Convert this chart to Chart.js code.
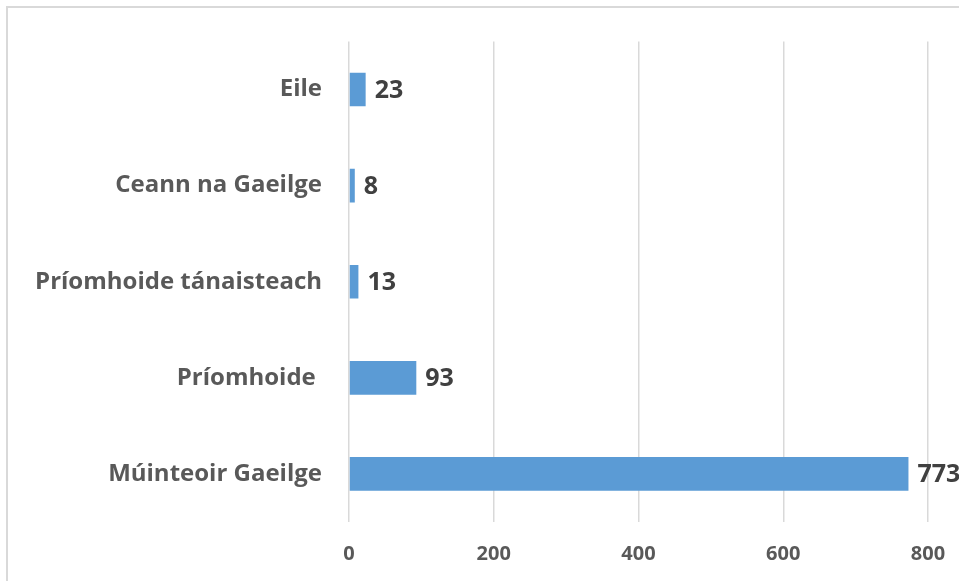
<!DOCTYPE html>
<html lang="ga">
<head>
<meta charset="utf-8" />
<title>Ról</title>
<style>
  html, body { margin: 0; padding: 0; background: #fff; overflow: hidden; }
  #frame { position: absolute; left: 6px; top: 6px; width: 1000px; height: 1000px; border: 2px solid #d9d9d9; box-sizing: border-box; }
  #wrap { position: absolute; left: 0; top: 0; width: 959px; height: 581px; }
</style>
</head>
<body>
<div id="frame"></div>
<div id="wrap"><canvas id="grafic"></canvas></div>
<script src="https://cdn.jsdelivr.net/npm/chart.js"></script>
<script>
// sonraí an ghraif
const catagoiri = ["Eile", "Ceann na Gaeilge", "Príomhoide tánaisteach", "Príomhoide ", "Múinteoir Gaeilge"];
const luachanna = [23, 8, 13, 93, 773];
const ticeanna = [0, 200, 400, 600, 800];

// lipéid ag deireadh gach barra
const lipeidi = {
  id: "lipeidi",
  afterDatasetsDraw(chart) {
    const ctx = chart.ctx;
    const meta = chart.getDatasetMeta(0);
    ctx.save();
    ctx.font = "bold 25px 'Open Sans'";
    ctx.fillStyle = "#404040";
    ctx.textAlign = "left";
    ctx.textBaseline = "middle";
    meta.data.forEach(function (bar, i) {
      ctx.fillText(String(luachanna[i]), bar.x + 9, bar.y + 1);
    });
    ctx.restore();
  }
};

new Chart(document.getElementById("grafic"), {
  type: "bar",
  data: {
    labels: catagoiri,
    datasets: [{
      data: luachanna,
      backgroundColor: "#5b9bd5",
      barPercentage: 0.7,
      categoryPercentage: 0.5
    }]
  },
  options: {
    indexAxis: "y",
    responsive: true,
    maintainAspectRatio: false,
    animation: false,
    layout: { padding: { top: 37, right: 31, left: 0, bottom: 0 } },
    plugins: { legend: { display: false }, tooltip: { enabled: false } },
    scales: {
      x: {
        min: 0,
        max: 800,
        afterBuildTicks(scale) { scale.ticks = ticeanna.map(v => ({ value: v })); },
        afterFit(scale) { scale.height = 59; scale.paddingLeft = 0; scale.paddingRight = 0; },
        grid: { color: "#d9d9d9", lineWidth: 1.5, drawTicks: false },
        border: { display: false },
        ticks: { padding: 20, color: "#595959", font: { family: "'Open Sans'", size: 20, weight: "bold" } }
      },
      y: {
        afterFit(scale) { scale.width = 349; },
        grid: { display: false, drawTicks: false },
        border: { display: false },
        ticks: { padding: 27, color: "#595959", font: { family: "'Open Sans'", size: 24, weight: "bold" } }
      }
    }
  },
  plugins: [lipeidi]
});
</script>
</body>
</html>
